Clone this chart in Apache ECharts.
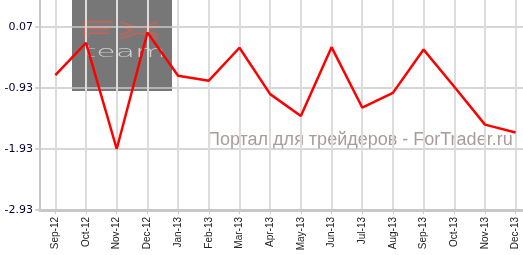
<!DOCTYPE html>
<html>
<head>
<meta charset="utf-8">
<script src="https://cdn.jsdelivr.net/npm/echarts@6/dist/echarts.min.js"></script>
<style>html,body{margin:0;padding:0;background:#fff;overflow:hidden}#c{width:531px;height:255px}</style>
</head>
<body>
<div id="c"></div>
<script>
const categories = ['Sep-12','Oct-12','Nov-12','Dec-12','Jan-13','Feb-13','Mar-13','Apr-13','May-13','Jun-13','Jul-13','Aug-13','Sep-13','Oct-13','Nov-13','Dec-13'];
const values = [-0.72,-0.19,-1.93,-0.02,-0.73,-0.81,-0.27,-1.03,-1.39,-0.26,-1.25,-1.01,-0.30,-0.91,-1.53,-1.66];
const yMin = -2.93;
const yMax = 0.513;
const yInterval = 1;

const chart = echarts.init(document.getElementById('c'), null, {renderer:'canvas'});
const red = '#d0604f';
const fxParts = [
  [[113,24],[87,24],[87,37]],
  [[87,31],[109,31]],
  [[120,24],[158,37]],
  [[158,24],[120,37]]
];
const graphics = [
  {type: 'rect', z: -10, shape: {x: 72, y: 0, width: 100, height: 91}, style: {fill: '#777777'}}
];
fxParts.forEach(p => graphics.push({type: 'polyline', z: -9, shape: {points: p}, style: {stroke: red, lineWidth: 6, fill: null}}));
fxParts.forEach(p => graphics.push({type: 'polyline', z: -8, shape: {points: p}, style: {stroke: '#7a7a7a', lineWidth: 3.4, fill: null}}));
graphics.push({type: 'text', z: -8, x: 84, y: 46, scaleX: 2.1, style: {text: 'team', fill: '#d0d0d0', fontFamily: 'DejaVu Sans', fontSize: 15, fontWeight: 'lighter'}});
graphics.push({type: 'text', z: -5, x: 207, y: 131, style: {text: 'Портал для трейдеров - ForTrader.ru', fill: '#a99b9b', fontFamily: 'Liberation Sans, Arial', fontSize: 18}});

chart.setOption({
  animation: false,
  grid: {left: 40, top: 0, right: 0, bottom: 45, containLabel: false},
  xAxis: {
    type: 'category',
    data: categories,
    boundaryGap: true,
    axisLine: {show: true, onZero: false, lineStyle: {color: '#c8c8c8', width: 3}},
    axisTick: {show: true, alignWithLabel: true, length: 4, lineStyle: {color: '#c8c8c8', width: 1}},
    axisLabel: {rotate: 90, margin: 7, fontFamily: 'Liberation Sans, Arial', fontSize: 10, color: '#222', interval: 0},
    splitLine: {show: true, alignWithLabel: true, lineStyle: {color: '#dcdcdc', width: 2}}
  },
  yAxis: {
    type: 'value',
    min: yMin, max: yMax, interval: yInterval,
    axisLine: {show: true, lineStyle: {color: '#c8c8c8', width: 2}},
    axisTick: {show: true, length: 5, lineStyle: {color: '#c8c8c8', width: 1.5}},
    axisLabel: {showMaxLabel: false, margin: 7, fontFamily: 'DejaVu Sans, Verdana', fontSize: 11, color: '#000033',
      formatter: v => v.toFixed(2)},
    splitLine: {show: true, showMaxLine: false, lineStyle: {color: '#c8c8c8', width: 1.5}}
  },
  graphic: graphics,
  series: [{
    type: 'line',
    data: values,
    symbol: 'none',
    lineStyle: {color: '#ff0000', width: 2.5},
    z: 5
  }]
});
</script>
</body>
</html>
